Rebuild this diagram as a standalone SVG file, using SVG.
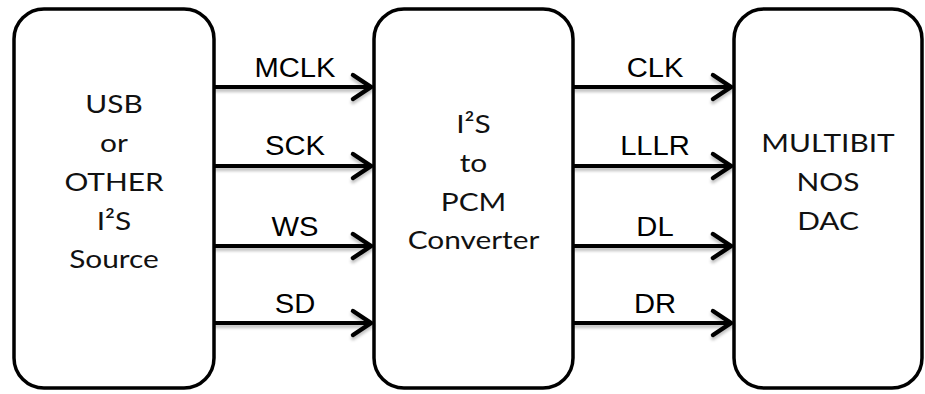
<svg xmlns="http://www.w3.org/2000/svg" width="925" height="394" viewBox="0 0 925 394">
<defs>
<style>
.box{fill:#fff;stroke:#000;stroke-width:3.5}
.btxt{font-family:Lato,"Open Sans","Liberation Sans",sans-serif;font-size:25.5px;fill:#111;text-anchor:middle}
.lbl{font-family:"Liberation Sans",Arial,sans-serif;font-size:27px;fill:#000;text-anchor:middle}
.wire{stroke:#000;stroke-width:4;fill:none}
</style>
<filter id="sh" x="-5%" y="-50%" width="110%" height="200%">
<feDropShadow dx="0" dy="3" stdDeviation="1.5" flood-color="#000" flood-opacity="0.25"/>
</filter>
<marker id="ah" markerUnits="userSpaceOnUse" markerWidth="30" markerHeight="34" viewBox="-24 -16 30 32" refX="0" refY="0" orient="auto">
<path d="M-19,-12 L-1,0 L-19,12" fill="none" stroke="#000" stroke-width="4.5" stroke-linejoin="miter" stroke-linecap="round"/>
</marker>
</defs>
<rect width="925" height="394" fill="#fff"/>
<g id="source">
<rect class="box" x="14" y="9" width="200" height="379" rx="30" ry="30"/>
<text class="btxt" transform="translate(114,113) scale(1.17,1)">USB</text>
<text class="btxt" transform="translate(114,152) scale(1.17,1)">or</text>
<text class="btxt" transform="translate(114,191) scale(1.17,1)">OTHER</text>
<text class="btxt" transform="translate(114,230) scale(1.17,1)">I²S</text>
<text class="btxt" transform="translate(114,268) scale(1.17,1)">Source</text>
</g>
<g id="converter">
<rect class="box" x="374" y="9" width="199" height="379" rx="30" ry="30"/>
<text class="btxt" transform="translate(473.5,133) scale(1.17,1)">I²S</text>
<text class="btxt" transform="translate(473.5,172) scale(1.17,1)">to</text>
<text class="btxt" transform="translate(473.5,211) scale(1.17,1)">PCM</text>
<text class="btxt" transform="translate(473.5,249) scale(1.17,1)">Converter</text>
</g>
<g id="dac">
<rect class="box" x="734" y="9" width="188" height="379" rx="30" ry="30"/>
<text class="btxt" transform="translate(828,152) scale(1.17,1)">MULTIBIT</text>
<text class="btxt" transform="translate(828,191) scale(1.17,1)">NOS</text>
<text class="btxt" transform="translate(828,230) scale(1.17,1)">DAC</text>
</g>
<g id="connectors">
<g filter="url(#sh)">
<line class="wire" x1="214" y1="87" x2="372" y2="87" marker-end="url(#ah)"/>
<line class="wire" x1="214" y1="166" x2="372" y2="166" marker-end="url(#ah)"/>
<line class="wire" x1="214" y1="246" x2="372" y2="246" marker-end="url(#ah)"/>
<line class="wire" x1="214" y1="323" x2="372" y2="323" marker-end="url(#ah)"/>
<line class="wire" x1="573" y1="87" x2="732" y2="87" marker-end="url(#ah)"/>
<line class="wire" x1="573" y1="166" x2="732" y2="166" marker-end="url(#ah)"/>
<line class="wire" x1="573" y1="246" x2="732" y2="246" marker-end="url(#ah)"/>
<line class="wire" x1="573" y1="323" x2="732" y2="323" marker-end="url(#ah)"/>
</g>
<text class="lbl" transform="translate(295,77) scale(1.08,1)">MCLK</text>
<text class="lbl" transform="translate(295,155) scale(1.08,1)">SCK</text>
<text class="lbl" transform="translate(295,236) scale(1.08,1)">WS</text>
<text class="lbl" transform="translate(295,313) scale(1.08,1)">SD</text>
<text class="lbl" transform="translate(655,77) scale(1.08,1)">CLK</text>
<text class="lbl" transform="translate(655,155) scale(1.08,1)">LLLR</text>
<text class="lbl" transform="translate(655,236) scale(1.08,1)">DL</text>
<text class="lbl" transform="translate(655,313) scale(1.08,1)">DR</text>
</g>
</svg>
